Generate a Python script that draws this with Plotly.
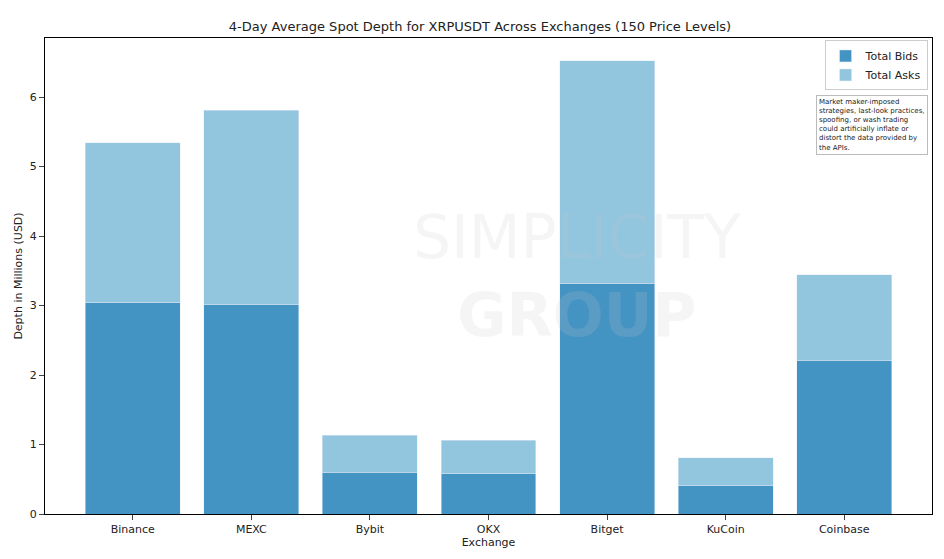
import plotly.graph_objects as go

exchanges = ["Binance", "MEXC", "Bybit", "OKX", "Bitget", "KuCoin", "Coinbase"]
bids = [3.04, 3.01, 0.60, 0.58, 3.31, 0.41, 2.21]
asks = [2.30, 2.80, 0.53, 0.48, 3.21, 0.40, 1.23]

fig = go.Figure()
fig.add_bar(x=exchanges, y=bids, name="Total Bids", marker_color="#4393c3", width=0.8)
fig.add_bar(x=exchanges, y=asks, name="Total Asks", marker_color="#92c5de", width=0.8)

font = dict(family="DejaVu Sans", size=11, color="#222")
fig.update_layout(
    barmode="stack", width=944, height=559, font=font,
    plot_bgcolor="white", paper_bgcolor="white",
    margin=dict(l=37, r=20, t=30, b=53),
    title=dict(text="4-Day Average Spot Depth for XRPUSDT Across Exchanges (150 Price Levels)",
               x=0.5, xanchor="center", y=0.975, font=dict(size=13, family="DejaVu Sans")),
    bargap=0.2,
    legend=dict(x=0.995, y=0.995, xanchor="right", yanchor="top", bordercolor="#ccc",
                traceorder="normal",
                borderwidth=1, font=dict(size=11), bgcolor="rgba(255,255,255,0.8)"),
    xaxis=dict(title=dict(text="Exchange", standoff=2, font=dict(size=11)), range=[-0.74, 6.74], showline=True,
               linecolor="black", mirror=True, ticks="outside", showgrid=False, automargin=False),
    yaxis=dict(title=dict(text="Depth in Millions (USD)", standoff=4, font=dict(size=11)), range=[0, 6.85],
               dtick=1, showline=True, linecolor="black", mirror=True, ticks="outside",
               showgrid=False, zeroline=False, automargin=False),
)
fig.add_annotation(text="Market maker-imposed<br>strategies, last-look practices,<br>spoofing, or wash trading<br>could artificially inflate or<br>distort the data provided by<br>the APIs.",
                   xref="paper", yref="paper", x=0.995, y=0.88, xanchor="right", yanchor="top",
                   showarrow=False, align="left", font=dict(size=7, family="DejaVu Sans"),
                   bordercolor="#bbb", borderwidth=1, borderpad=2, bgcolor="white")
fig.add_annotation(text="SIMPLICITY<br><b>GROUP</b>", xref="paper", yref="paper", x=0.6, y=0.5,
                   showarrow=False, font=dict(size=60, color="rgba(200,200,200,0.18)"))
fig.write_html("out.html")
